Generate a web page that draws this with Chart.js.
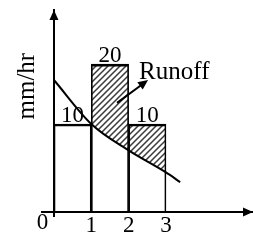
<!DOCTYPE html>
<html>
<head>
<meta charset="utf-8">
<script src="https://cdn.jsdelivr.net/npm/chart.js@4.4.1/dist/chart.umd.min.js"></script>
<style>
  html, body { margin: 0; padding: 0; background: #fff; }
  #wrap { width: 253px; height: 242px; }
</style>
</head>
<body>
<div id="wrap"><canvas id="myChart" width="253" height="242"></canvas></div>
<script>
// rain blocks: hour on x, intensity (mm/hr) on y
const hourStart = [0, 1, 2];
const barHeights = [10, 16.8, 10];      // heights as drawn in the sketch
const barLabels = ['10', '20', '10'];   // intensities printed over the blocks
const xTicks = [1, 2, 3];
const yTicks = [0];

// infiltration capacity curve
const curveX = [0, 1, 2, 3, 3.38];
const curveY = [15, 10, 7.0, 4.5, 3.4];

// top edge of the blocks where rain exceeds infiltration
const runoffX = [1, 2, 3];
const runoffY = [16.8, 10, 10];

const runoffArrow = { from: [1.69, 12.4], to: [2.52, 15.0] };
const runoffText = { x: 2.28, y: 15.1, text: 'Runoff' };
const yTitle = { x: -0.72, y: 14.3, text: 'mm/hr' };

const serif = "'Liberation Serif', 'Times New Roman', serif";
Chart.defaults.font.family = serif;
Chart.defaults.color = '#000';

function makeHatch() {
  const size = 6;
  const c = document.createElement('canvas');
  c.width = size;
  c.height = size;
  const g = c.getContext('2d');
  g.strokeStyle = '#3a3a3a';
  g.lineWidth = 1.5;
  g.beginPath();
  g.moveTo(-1, size + 1); g.lineTo(size + 1, -1);
  g.moveTo(-1, 1); g.lineTo(1, -1);
  g.moveTo(size - 1, size + 1); g.lineTo(size + 1, size - 1);
  g.stroke();
  return g.createPattern(c, 'repeat');
}

function arrowHead(ctx, tipX, tipY, fromX, fromY, len, half) {
  const a = Math.atan2(tipY - fromY, tipX - fromX);
  ctx.beginPath();
  ctx.moveTo(tipX, tipY);
  ctx.lineTo(tipX - len * Math.cos(a) + half * Math.sin(a), tipY - len * Math.sin(a) - half * Math.cos(a));
  ctx.lineTo(tipX - len * Math.cos(a) - half * Math.sin(a), tipY - len * Math.sin(a) + half * Math.cos(a));
  ctx.closePath();
  ctx.fill();
}

// drop the label overflow padding so the plot fills the layout padding box
function noPad(s) {
  s.paddingTop = 0; s.paddingBottom = 0;
  s.paddingLeft = 0; s.paddingRight = 0;
}

const annotations = {
  id: 'annotations',
  afterDraw(chart) {
    const { ctx, chartArea, scales: { x, y } } = chart;
    ctx.save();
    ctx.fillStyle = '#000';
    ctx.strokeStyle = '#000';

    // axis arrows
    const x0 = x.getPixelForValue(0);
    const y0 = y.getPixelForValue(0);
    arrowHead(ctx, x0, chartArea.top, x0, chartArea.top + 20, 10, 4.5);
    arrowHead(ctx, chartArea.right, y0, chartArea.right - 20, y0, 10, 4.5);

    // intensity labels over the blocks
    ctx.font = '23px ' + serif;
    ctx.textAlign = 'center';
    ctx.textBaseline = 'bottom';
    chart.getDatasetMeta(0).data.forEach((bar, i) => {
      ctx.fillText(barLabels[i], bar.x, bar.y + 3);
    });

    // runoff arrow and text
    const ax1 = x.getPixelForValue(runoffArrow.from[0]);
    const ay1 = y.getPixelForValue(runoffArrow.from[1]);
    const ax2 = x.getPixelForValue(runoffArrow.to[0]);
    const ay2 = y.getPixelForValue(runoffArrow.to[1]);
    ctx.lineWidth = 2;
    ctx.beginPath();
    ctx.moveTo(ax1, ay1);
    ctx.lineTo(ax2 - 4, ay2 + 3);
    ctx.stroke();
    arrowHead(ctx, ax2, ay2, ax1, ay1, 10, 4.5);

    ctx.font = '25px ' + serif;
    ctx.textAlign = 'left';
    ctx.textBaseline = 'alphabetic';
    ctx.fillText(runoffText.text, x.getPixelForValue(runoffText.x), y.getPixelForValue(runoffText.y));

    // y axis title
    ctx.translate(x.getPixelForValue(yTitle.x), y.getPixelForValue(yTitle.y));
    ctx.rotate(-Math.PI / 2);
    ctx.textAlign = 'center';
    ctx.textBaseline = 'middle';
    ctx.font = '25px ' + serif;
    ctx.fillText(yTitle.text, 0, 0);
    ctx.restore();
  }
};

const hatch = makeHatch();

new Chart(document.getElementById('myChart'), {
  type: 'bar',
  data: {
    datasets: [
      {
        type: 'bar',
        data: hourStart.map((h, i) => ({ x: h + 0.5, y: barHeights[i] })),
        backgroundColor: 'rgba(0,0,0,0)',
        borderColor: '#000',
        borderWidth: { top: 2, left: 1, right: 1, bottom: 0 },
        borderSkipped: false,
        barPercentage: 1,
        categoryPercentage: 1,
        order: 2
      },
      {
        type: 'line',
        data: runoffX.map((v, i) => ({ x: v, y: runoffY[i] })),
        stepped: 'before',
        borderWidth: 0,
        borderColor: 'rgba(0,0,0,0)',
        pointRadius: 0,
        backgroundColor: hatch,
        fill: 2,
        order: 3
      },
      {
        type: 'line',
        data: curveX.map((v, i) => ({ x: v, y: curveY[i] })),
        borderColor: '#000',
        borderWidth: 2,
        pointRadius: 0,
        cubicInterpolationMode: 'monotone',
        fill: false,
        order: 1
      }
    ]
  },
  options: {
    responsive: false,
    animation: false,
    devicePixelRatio: 1,
    layout: { padding: { left: 42, right: 0, top: 10, bottom: 26 } },
    plugins: {
      legend: { display: false },
      tooltip: { enabled: false }
    },
    events: [],
    scales: {
      x: {
        type: 'linear',
        position: { y: 0 },
        min: -0.32,
        max: 5.33,
        offset: false,
        grid: { display: true, drawOnChartArea: false, drawTicks: false, offset: false },
        border: { display: true, color: '#000', width: 2 },
        afterBuildTicks: (s) => { s.ticks = xTicks.map(v => ({ value: v })); },
        afterFit: noPad,
        ticks: { font: { size: 23 }, padding: 0, maxRotation: 0, autoSkip: false }
      },
      y: {
        type: 'linear',
        position: { x: 0 },
        min: -0.45,
        max: 22.95,
        grid: { display: true, drawOnChartArea: false, drawTicks: false },
        border: { display: true, color: '#000', width: 2 },
        afterBuildTicks: (s) => { s.ticks = yTicks.map(v => ({ value: v })); },
        afterFit: noPad,
        ticks: {
          font: { size: 23 },
          labelOffset: 11,
          callback: (v) => v + ' '   // "0" sits left of the axis
        }
      }
    }
  },
  plugins: [annotations]
});
</script>
</body>
</html>
